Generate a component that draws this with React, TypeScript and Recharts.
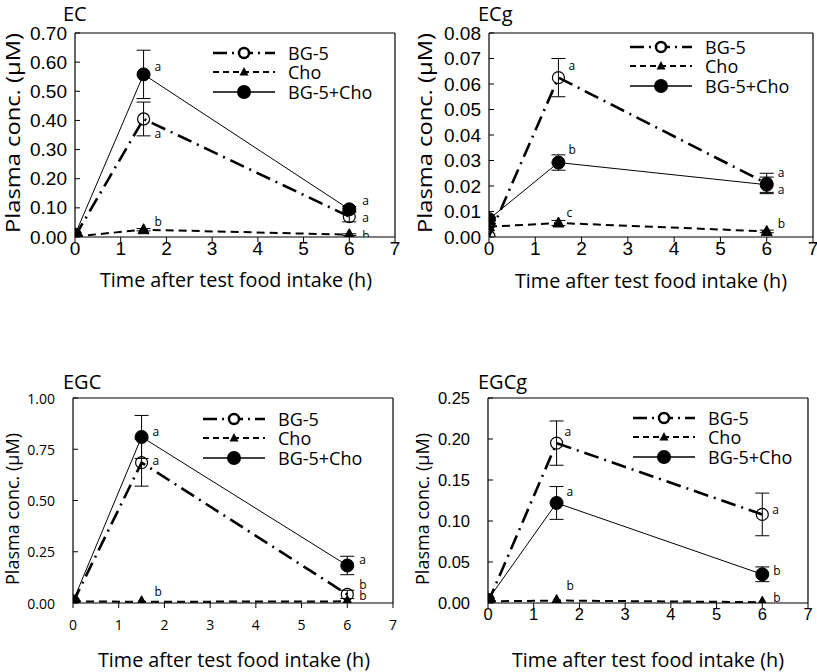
import React from 'react';
import { LineChart, Line, XAxis, YAxis, ErrorBar, ReferenceLine, Legend, Customized } from 'recharts';

// ---------- data ----------
const times = [0, 1.5, 6];
const xTicks = [0, 1, 2, 3, 4, 5, 6, 7];
const seriesNames = ['BG-5', 'Cho', 'BG-5+Cho'];
const panelTitles = ['EC', 'ECg', 'EGC', 'EGCg'];
const xTitle = 'Time after test food intake (h)';
const yTitle = 'Plasma conc. (\u03BCM)';

// EC
const ecBG5 = [0.002, 0.405, 0.07];
const ecBG5Err = [0, 0.058, 0.018];
const ecCho = [0.002, 0.025, 0.008];
const ecChoErr = [0, 0.004, 0.003];
const ecMix = [0.008, 0.558, 0.095];
const ecMixErr = [0, 0.083, 0.01];
const ecBG5Sig = ['', 'a', 'a'];
const ecChoSig = ['', 'b', 'b'];
const ecMixSig = ['', 'a', 'a'];
const ecYTicks = [0, 0.1, 0.2, 0.3, 0.4, 0.5, 0.6, 0.7];

// ECg
const ecgBG5 = [0.0002, 0.0625, 0.021];
const ecgBG5Err = [0, 0.0075, 0.004];
const ecgCho = [0.004, 0.0055, 0.0022];
const ecgChoErr = [0, 0.001, 0.0005];
const ecgMix = [0.007, 0.0292, 0.0205];
const ecgMixErr = [0, 0.003, 0.003];
const ecgBG5Sig = ['', 'a', 'a'];
const ecgChoSig = ['', 'c', 'b'];
const ecgMixSig = ['', 'b', 'a'];
const ecgYTicks = [0, 0.01, 0.02, 0.03, 0.04, 0.05, 0.06, 0.07, 0.08];

// EGC
const egcBG5 = [0.003, 0.685, 0.042];
const egcBG5Err = [0, 0.115, 0.02];
const egcCho = [0.008, 0.006, 0.008];
const egcChoErr = [0, 0, 0];
const egcMix = [0.008, 0.81, 0.183];
const egcMixErr = [0, 0.105, 0.045];
const egcBG5Sig = ['', 'a', 'b'];
const egcChoSig = ['', 'b', 'b'];
const egcMixSig = ['', 'a', 'a'];
const egcYTicks = [0, 0.25, 0.5, 0.75, 1.0];

// EGCg
const egcgBG5 = [0.0005, 0.195, 0.108];
const egcgBG5Err = [0, 0.027, 0.026];
const egcgCho = [0.002, 0.003, 0.001];
const egcgChoErr = [0, 0, 0];
const egcgMix = [0.004, 0.122, 0.035];
const egcgMixErr = [0, 0.02, 0.009];
const egcgBG5Sig = ['', 'a', 'a'];
const egcgChoSig = ['', 'b', 'b'];
const egcgMixSig = ['', 'a', 'b'];
const egcgYTicks = [0, 0.05, 0.1, 0.15, 0.2, 0.25];

function buildRows(
  bg5: number[], bg5Err: number[], cho: number[], choErr: number[], mix: number[], mixErr: number[],
  bg5Sig: string[], choSig: string[], mixSig: string[]
) {
  return times.map((t, i) => ({
    t,
    bg5: bg5[i], bg5Err: bg5Err[i],
    cho: cho[i], choErr: choErr[i],
    mix: mix[i], mixErr: mixErr[i],
    bg5Sig: bg5Sig[i], choSig: choSig[i], mixSig: mixSig[i],
  }));
}

// ---------- styles / layout ----------
type Off = [number, number][];
interface PanelCfg {
  title: string;
  rows: any[];
  yMax: number;
  yTicks: number[];
  left: number; top: number; width: number; height: number;
  margin: { top: number; right: number; bottom: number; left: number };
  tickFont: string; tickFontSize: number; yTickGap: number; xTickMargin: number;
  titlePos: [number, number];
  yLabelPos: [number, number]; yLabelLen: number; yLabelSize: number;
  xLabelPos: [number, number]; xLabelLen: number;
  legendPos: [number, number];
  sig: { bg5: Off; cho: Off; mix: Off };
}

const LABEL_FONT = '"Open Sans", "Noto Sans", sans-serif';
const ARIAL = '"Liberation Sans", Arial, sans-serif';

const panels: PanelCfg[] = [
  {
    title: panelTitles[0],
    rows: buildRows(ecBG5, ecBG5Err, ecCho, ecChoErr, ecMix, ecMixErr, ecBG5Sig, ecChoSig, ecMixSig),
    yMax: 0.7, yTicks: ecYTicks,
    left: 0, top: 0, width: 408, height: 300,
    margin: { top: 33, right: 13, bottom: 33, left: 15 },
    tickFont: ARIAL, tickFontSize: 19, yTickGap: 8, xTickMargin: 0,
    titlePos: [63, 21],
    yLabelPos: [12, 133], yLabelLen: 200, yLabelSize: 20,
    xLabelPos: [236, 287], xLabelLen: 272,
    legendPos: [213, 43],
    sig: {
      bg5: [[0, 0], [11, 15], [13, 1]],
      cho: [[0, 0], [11, -8], [13, 1]],
      mix: [[0, 0], [11, -8], [13, -9]],
    },
  },
  {
    title: panelTitles[1],
    rows: buildRows(ecgBG5, ecgBG5Err, ecgCho, ecgChoErr, ecgMix, ecgMixErr, ecgBG5Sig, ecgChoSig, ecgMixSig),
    yMax: 0.08, yTicks: ecgYTicks,
    left: 408, top: 0, width: 409, height: 300,
    margin: { top: 33, right: 4, bottom: 33, left: 21 },
    tickFont: ARIAL, tickFontSize: 19, yTickGap: 8, xTickMargin: 0,
    titlePos: [70, 21],
    yLabelPos: [16, 133], yLabelLen: 200, yLabelSize: 20,
    xLabelPos: [243, 288], xLabelLen: 272,
    legendPos: [222, 37],
    sig: {
      bg5: [[0, 0], [10, -12], [11, -11]],
      cho: [[0, 0], [8, -10], [11, -8]],
      mix: [[0, 0], [10, -13], [11, 5]],
    },
  },
  {
    title: panelTitles[2],
    rows: buildRows(egcBG5, egcBG5Err, egcCho, egcChoErr, egcMix, egcMixErr, egcBG5Sig, egcChoSig, egcMixSig),
    yMax: 1.0, yTicks: egcYTicks,
    left: 0, top: 360, width: 408, height: 312,
    margin: { top: 38, right: 15, bottom: 39, left: 13 },
    tickFont: LABEL_FONT, tickFontSize: 14, yTickGap: 18, xTickMargin: 12,
    titlePos: [63, 29],
    yLabelPos: [12, 149], yLabelLen: 152, yLabelSize: 18,
    xLabelPos: [234, 307], xLabelLen: 272,
    legendPos: [203, 49],
    sig: {
      bg5: [[0, 0], [11, -2], [12, -10]],
      cho: [[0, 0], [13, -10], [12, -6]],
      mix: [[0, 0], [11, -5], [12, -6]],
    },
  },
  {
    title: panelTitles[3],
    rows: buildRows(egcgBG5, egcgBG5Err, egcgCho, egcgChoErr, egcgMix, egcgMixErr, egcgBG5Sig, egcgChoSig, egcgMixSig),
    yMax: 0.25, yTicks: egcgYTicks,
    left: 408, top: 360, width: 409, height: 312,
    margin: { top: 38, right: 9, bottom: 39, left: 20 },
    tickFont: ARIAL, tickFontSize: 16.5, yTickGap: 18, xTickMargin: 0,
    titlePos: [70, 29],
    yLabelPos: [14, 149], yLabelLen: 152, yLabelSize: 18,
    xLabelPos: [240, 307], xLabelLen: 272,
    legendPos: [225, 48],
    sig: {
      bg5: [[0, 0], [8, -12], [10, -5]],
      cho: [[0, 0], [10, -15], [11, -5]],
      mix: [[0, 0], [10, -11], [11, -4]],
    },
  },
];

const BG5_DASH = '15 6 2 6';
const CHO_DASH = '8 5';

// ---------- renderers ----------
const sigText = (x: number, y: number, s: string) =>
  s ? (
    <text x={x} y={y} fontFamily={LABEL_FONT} fontSize={12} fill="#000" dominantBaseline="central">
      {s}
    </text>
  ) : null;

const makeDot = (kind: 'open' | 'tri' | 'fill', sigKey: string, offs: Off) => (p: any) => {
  const { cx, cy, index, payload } = p;
  if (cx == null || cy == null) return <g key={`${kind}-${index}`} />;
  const o = offs[index] || [0, 0];
  let shape;
  if (kind === 'open') shape = <circle cx={cx} cy={cy} r={6} fill="none" stroke="#000" strokeWidth={1.2} />;
  else if (kind === 'fill') shape = <circle cx={cx} cy={cy} r={6.5} fill="#000" stroke="#000" strokeWidth={1} />;
  else shape = (
    <polygon
      points={`${cx},${cy - 6} ${cx - 5.5},${cy + 4} ${cx + 5.5},${cy + 4}`}
      fill="#000"
      stroke="#000"
      strokeWidth={1}
    />
  );
  return (
    <g key={`${kind}-${index}`}>
      {shape}
      {sigText(cx + o[0], cy + o[1], payload ? payload[sigKey] : '')}
    </g>
  );
};

const makeYTick = (gap: number, font: string, size: number) => (p: any) => {
  const { x, y, payload } = p;
  return (
    <g>
      <line x1={x + gap} x2={x + gap + 5} y1={y} y2={y} stroke="#000" strokeWidth={1} />
      <text x={x} y={y} textAnchor="end" dominantBaseline="central" fontFamily={font} fontSize={size} fill="#000">
        {Number(payload.value).toFixed(2)}
      </text>
    </g>
  );
};

const LegendBox = () => {
  const rowsY = [10, 29, 49];
  return (
    <svg width={180} height={62} style={{ display: 'block', overflow: 'visible' }}>
      <line x1={0} x2={62} y1={rowsY[0]} y2={rowsY[0]} stroke="#000" strokeWidth={2.5} strokeDasharray="14 5 2 5" />
      <circle cx={31} cy={rowsY[0]} r={5} fill="#fff" stroke="#000" strokeWidth={2.5} />
      <line x1={0} x2={62} y1={rowsY[1]} y2={rowsY[1]} stroke="#000" strokeWidth={2} strokeDasharray="6 4" />
      <polygon points={`31,${rowsY[1] - 5} 26.5,${rowsY[1] + 3.5} 35.5,${rowsY[1] + 3.5}`} fill="#000" />
      <line x1={0} x2={62} y1={rowsY[2]} y2={rowsY[2]} stroke="#000" strokeWidth={1.5} />
      <circle cx={31} cy={rowsY[2]} r={7} fill="#000" />
      {seriesNames.map((n, i) => (
        <text key={n} x={75} y={rowsY[i]} dominantBaseline="central" fontFamily={LABEL_FONT} fontSize={18} fill="#000">
          {n}
        </text>
      ))}
    </svg>
  );
};

const PanelText = ({ cfg }: { cfg: PanelCfg }) => (
  <g>
    <text x={cfg.titlePos[0]} y={cfg.titlePos[1]} fontFamily={LABEL_FONT} fontSize={20} fill="#000">
      {cfg.title}
    </text>
    <text
      x={cfg.yLabelPos[0]}
      y={cfg.yLabelPos[1]}
      transform={`rotate(-90, ${cfg.yLabelPos[0]}, ${cfg.yLabelPos[1]})`}
      textAnchor="middle"
      dominantBaseline="central"
      fontFamily={LABEL_FONT}
      fontSize={cfg.yLabelSize}
      textLength={cfg.yLabelLen}
      lengthAdjust="spacingAndGlyphs"
      fill="#000"
    >
      {yTitle}
    </text>
    <text
      x={cfg.xLabelPos[0]}
      y={cfg.xLabelPos[1]}
      textAnchor="middle"
      fontFamily={LABEL_FONT}
      fontSize={20}
      textLength={cfg.xLabelLen}
      lengthAdjust="spacingAndGlyphs"
      fill="#000"
    >
      {xTitle}
    </text>
  </g>
);

const Panel = ({ cfg }: { cfg: PanelCfg }) => (
  <div style={{ position: 'absolute', left: cfg.left, top: cfg.top, width: cfg.width, height: cfg.height }}>
    <LineChart width={cfg.width} height={cfg.height} data={cfg.rows} margin={cfg.margin}>
      <XAxis
        dataKey="t"
        type="number"
        domain={[0, 7]}
        ticks={xTicks}
        interval={0}
        allowDataOverflow
        height={30}
        stroke="#000"
        tickSize={5}
        tickMargin={cfg.xTickMargin}
        tick={{ fill: '#000', fontFamily: cfg.tickFont, fontSize: cfg.tickFontSize }}
        tickLine={{ stroke: '#000' }}
        axisLine={{ stroke: '#000', strokeWidth: 1.2 }}
      />
      <YAxis
        type="number"
        domain={[0, cfg.yMax]}
        ticks={cfg.yTicks}
        interval={0}
        allowDataOverflow
        width={60}
        tickSize={0}
        tickMargin={cfg.yTickGap}
        tickLine={false}
        axisLine={{ stroke: '#000', strokeWidth: 1.2 }}
        tick={makeYTick(cfg.yTickGap, cfg.tickFont, cfg.tickFontSize)}
      />
      <ReferenceLine y={cfg.yMax} stroke="#000" strokeWidth={1.2} />
      <ReferenceLine x={7} stroke="#000" strokeWidth={1.2} />
      <Line
        dataKey="bg5"
        name={seriesNames[0]}
        type="linear"
        stroke="#000"
        strokeWidth={2.6}
        strokeDasharray={BG5_DASH}
        dot={makeDot('open', 'bg5Sig', cfg.sig.bg5)}
        activeDot={false}
        isAnimationActive={false}
      >
        <ErrorBar dataKey="bg5Err" direction="y" width={7} stroke="#000" strokeWidth={1} />
      </Line>
      <Line
        dataKey="cho"
        name={seriesNames[1]}
        type="linear"
        stroke="#000"
        strokeWidth={2}
        strokeDasharray={CHO_DASH}
        dot={makeDot('tri', 'choSig', cfg.sig.cho)}
        activeDot={false}
        isAnimationActive={false}
      >
        <ErrorBar dataKey="choErr" direction="y" width={7} stroke="#000" strokeWidth={1} />
      </Line>
      <Line
        dataKey="mix"
        name={seriesNames[2]}
        type="linear"
        stroke="#000"
        strokeWidth={1}
        dot={makeDot('fill', 'mixSig', cfg.sig.mix)}
        activeDot={false}
        isAnimationActive={false}
      >
        <ErrorBar dataKey="mixErr" direction="y" width={7} stroke="#000" strokeWidth={1} />
      </Line>
      <Legend
        layout="vertical"
        align="center"
        verticalAlign="middle"
        content={() => <LegendBox />}
        wrapperStyle={{ position: 'absolute', left: cfg.legendPos[0], top: cfg.legendPos[1], width: 180, height: 62 }}
      />
      <Customized component={<PanelText cfg={cfg} />} />
    </LineChart>
  </div>
);

export default function App() {
  return (
    <div style={{ position: 'absolute', left: 0, top: 0, width: 817, height: 672, background: '#fff', overflow: 'hidden' }}>
      {panels.map((cfg) => (
        <Panel key={cfg.title} cfg={cfg} />
      ))}
    </div>
  );
}
